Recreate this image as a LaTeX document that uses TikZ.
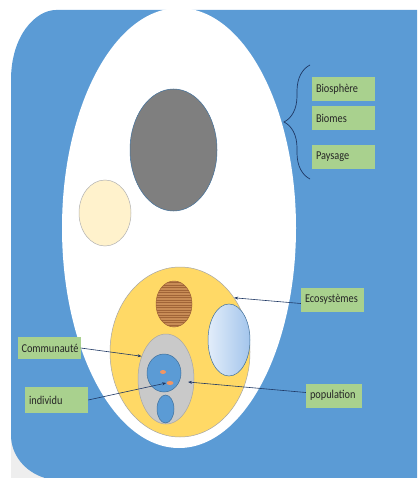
\documentclass[tikz,border=0pt]{standalone}
\usepackage{fontspec}
\setmainfont{Carlito}[FakeStretch=0.86]
\usepackage{tikz}
\usetikzlibrary{positioning,arrows.meta,shapes.geometric,decorations.pathreplacing}
\definecolor{slideblue}{RGB}{91,155,213}
\definecolor{darkblue}{RGB}{65,113,156}
\definecolor{labelgreen}{RGB}{169,209,142}
\definecolor{sunyellow}{RGB}{255,217,102}
\definecolor{cream}{RGB}{255,242,204}
\definecolor{wood}{RGB}{200,140,86}
\definecolor{woodline}{RGB}{160,100,55}
\definecolor{paleblue}{RGB}{226,237,250}
\definecolor{skyblue}{RGB}{163,197,236}
\definecolor{stonegrey}{RGB}{201,201,201}
\definecolor{darkgrey}{RGB}{127,127,127}
\definecolor{dotorange}{RGB}{240,150,100}
\definecolor{navy}{RGB}{31,56,100}
\definecolor{pagegrey}{RGB}{238,238,238}

\begin{document}
\begin{tikzpicture}[
    x=1pt, y=-1pt,
    blob/.style={
        ellipse, inner sep=0pt, line width=0.5pt
    },
    labelbox/.style={
        rectangle, fill=labelgreen, text=black!85,
        text width=55pt, align=left, inner xsep=4pt,
        minimum height=24pt,
        font=\fontsize{12}{13}\selectfont
    },
    arrow/.style={-{Stealth[length=4pt,width=3pt]}, line width=0.6pt, navy}
]
\useasboundingbox (0,0) rectangle (417,478);

% slide background
\fill[pagegrey] (11,410) rectangle (70,478);
\fill[slideblue] (417,10) -- (56,10) .. controls (36,10) and (11,35) .. (11,80)
    -- (11,435) .. controls (11,455) and (25,472) .. (45,478) -- (417,478) -- cycle;

% nested levels
\node[blob, fill=white, minimum width=234, minimum height=440] (earth) at (179,228) {};
\node[blob, fill=darkgrey, draw=darkblue, minimum width=87, minimum height=122] (biomell) at (173.5,150) {};
\node[blob, fill=cream, draw=black!30, minimum width=52, minimum height=66] (creamell) at (105,213) {};
\node[blob, fill=sunyellow, draw=black!35, minimum width=140, minimum height=170] (ecoell) at (180,352) {};
\node[blob, fill=wood, draw=woodline, minimum width=36, minimum height=46] (woodell) at (174,304) {};
\begin{scope}
    \clip (woodell.center) ellipse [x radius=18, y radius=23];
    \foreach \y in {282.5,285,...,327}
        \draw[woodline, line width=0.3pt] (150,\y) -- (200,\y);
\end{scope}
\node[blob, left color=paleblue, right color=skyblue, draw=darkblue, minimum width=42, minimum height=72] (lakeell) at (229,340) {};
\node[blob, fill=stonegrey, draw=black!35, minimum width=56, minimum height=90] (commell) at (166,379) {};
\node[blob, fill=slideblue, draw=darkblue, minimum width=34, minimum height=38] (popell) at (164,373) {};
\node[blob, fill=slideblue, draw=darkblue, minimum width=17, minimum height=28] (smallell) at (165.5,409) {};
\node[blob, fill=dotorange, minimum width=6, minimum height=4] (dot1) at (163,372) {};
\node[blob, fill=dotorange, minimum width=7, minimum height=4] (dot2) at (170,383) {};
\coordinate (popend) at (188,382);

% labels
\node[labelbox] (biosph) at (343.5,89) {Biosphère};
\node[labelbox, below=5pt of biosph] (biomes) {Biomes};
\node[labelbox, below=14pt of biomes] (paysage) {Paysage};
\node[labelbox] (ecosys) at (332.5,299.5) {Ecosystèmes};
\node[labelbox, minimum height=22pt] (commun) at (49,348) {Communauté};
\node[labelbox, minimum height=26pt] (indiv) at (56.5,400) {individu};
\node[labelbox, text width=48pt] (popu) at (334,395.5) {population};

\draw[navy, line width=0.7pt, decorate, decoration={brace, amplitude=26pt}] (310,179) -- (310,65);

\draw[arrow] ([yshift=-4pt]ecosys.west) -- (ecoell.45);
\draw[arrow] (commun.east) -- (commell.137);
\draw[arrow] (indiv.east) -- (dot2.west);
\draw[arrow] ([yshift=3pt]popu.west) -- (popend);

\end{tikzpicture}
\end{document}
